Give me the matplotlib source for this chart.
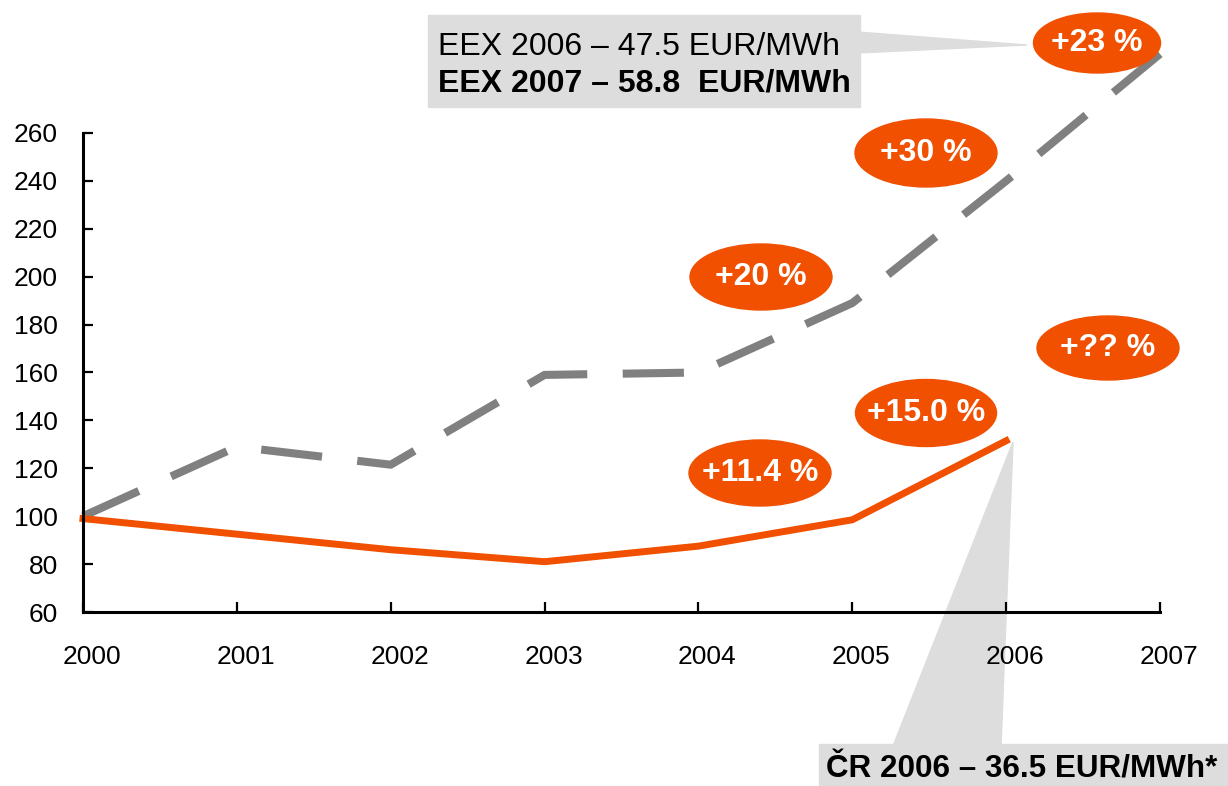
import matplotlib
matplotlib.use("Agg")
import matplotlib.pyplot as plt
from matplotlib.patches import Ellipse, Polygon, Rectangle
from matplotlib.transforms import ScaledTranslation

# data (index 2000 = 100)
years = ['2000', '2001', '2002', '2003', '2004', '2005', '2006', '2007']
eex = [100, 129, 121.5, 159, 160, 189, 240, 293]
cr = [99, 92.5, 86, 81, 87.5, 98.5, 131.5]
y_ticks = [60, 80, 100, 120, 140, 160, 180, 200, 220, 240, 260]

bubble_labels = ['+23 %', '+30 %', '+20 %', '+?? %', '+15.0 %', '+11.4 %']
eex_text = ['EEX 2006 \u2013 47.5 EUR/MWh', 'EEX 2007 \u2013 58.8  EUR/MWh']
cr_text = '\u010cR 2006 \u2013 36.5 EUR/MWh*'

ORANGE = '#F05000'
GRAY = '#808080'
BOX = '#DDDDDD'

plt.rcParams['font.family'] = ['Liberation Sans', 'DejaVu Sans']

W, H = 1228, 786
fig = plt.figure(figsize=(W / 100, H / 100), dpi=100)


def fx(px):
    return px / W


def fy(py):
    return 1 - py / H


ax = fig.add_axes([fx(83), fy(612), fx(1160) - fx(83), fy(133) - fy(612)])
ax.set_zorder(1)
ax.patch.set_visible(False)

x = list(range(len(years)))
ax.plot(x, eex, color=GRAY, lw=5.8, dashes=(7.6, 4.4), solid_capstyle='butt',
        dash_capstyle='butt', clip_on=False, zorder=3)
ax.plot(x[:len(cr)], cr, color=ORANGE, lw=5, clip_on=False, zorder=3)

ax.set_xlim(0, 7)
ax.set_ylim(60, 260)
ax.set_xticks(x)
ax.set_xticklabels(years)
ax.set_yticks(y_ticks)
ax.tick_params(axis='both', direction='in', length=7, width=1.6, labelsize=19)
ax.tick_params(axis='x', pad=24)
ax.tick_params(axis='y', pad=18)
for lab in ax.get_xticklabels():
    lab.set_transform(lab.get_transform() + ScaledTranslation(0.09, 0, fig.dpi_scale_trans))
for s in ['top', 'right']:
    ax.spines[s].set_visible(False)
for s in ['left', 'bottom']:
    ax.spines[s].set_linewidth(2.2)
    ax.spines[s].set_zorder(4)

# gray callout boxes (behind the axes)
fig.patches.append(Rectangle((fx(428), fy(107)), fx(860) - fx(428), fy(15) - fy(107),
                             transform=fig.transFigure, color=BOX, zorder=0))
fig.patches.append(Polygon([(fx(858), fy(32)), (fx(858), fy(53)), (fx(1027), fy(45))],
                           closed=True, transform=fig.transFigure, color=BOX, zorder=0))
fig.patches.append(Rectangle((fx(819), 0), 1 - fx(819), fy(744),
                             transform=fig.transFigure, color=BOX, zorder=0))
fig.patches.append(Polygon([(fx(893), fy(746)), (fx(1001), fy(746)), (fx(1013), fy(442))],
                           closed=True, transform=fig.transFigure, color=BOX, zorder=0))

fig.text(fx(438), fy(55), eex_text[0], fontsize=23, va='baseline', ha='left')
fig.text(fx(438), fy(92), eex_text[1], fontsize=23, fontweight='bold', va='baseline', ha='left')
fig.text(fx(826), fy(778), cr_text, fontsize=22.6, fontweight='bold', va='baseline', ha='left')

# orange bubbles (centre x, centre y, width, height in px)
bubble_pos = [(1097, 43, 127, 60), (926, 153, 142, 68), (761, 277, 142, 66),
              (1108, 348, 142, 64), (926, 413, 141, 67), (760, 473, 142, 66)]
for lab, (cx, cy, w, h) in zip(bubble_labels, bubble_pos):
    e = Ellipse((fx(cx), fy(cy)), w / W, h / H, transform=fig.transFigure,
                color=ORANGE, zorder=5)
    fig.patches.append(e)
    fig.text(fx(cx), fy(cy), lab, fontsize=23, fontweight='bold', color='white',
             ha='center', va='center', zorder=6)

plt.savefig('out.png', dpi=100)
